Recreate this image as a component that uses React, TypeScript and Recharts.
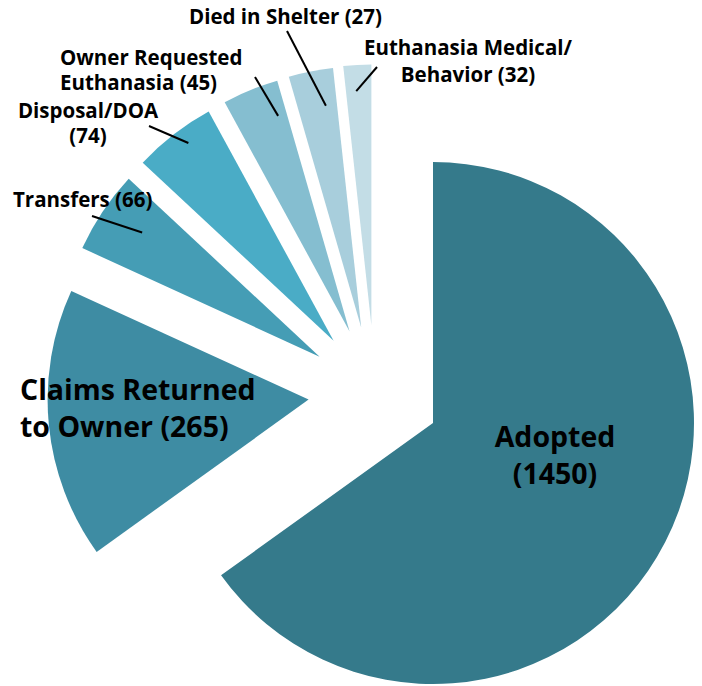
import React from 'react';
import { PieChart, Pie, Cell } from 'recharts';

// outcome categories, in clockwise order from 12 o'clock
const categories = [
  'Adopted',
  'Claims Returned to Owner',
  'Transfers',
  'Disposal/DOA',
  'Owner Requested Euthanasia',
  'Died in Shelter',
  'Euthanasia Medical/Behavior',
];
const counts = [1450, 265, 66, 74, 45, 27, 32];
// slice size as drawn in the original graphic (degrees) - the original is not drawn to scale
const sliceDegrees = [234.3, 60.3, 18.4, 18.4, 12.5, 9.9, 6.2];
// label text, split over lines like the original
const labelLines = [
  ['Adopted', `(${counts[0]})`],
  ['Claims Returned', `to Owner (${counts[1]})`],
  [`Transfers (${counts[2]})`],
  ['Disposal/DOA', `(${counts[3]})`],
  ['Owner Requested', `Euthanasia (${counts[4]})`],
  [`Died in Shelter (${counts[5]})`],
  ['Euthanasia Medical/', `Behavior (${counts[6]})`],
];

const data = categories.map((name, i) => ({ name, count: counts[i], deg: sliceDegrees[i] }));

// --- layout / styling ---
const W = 702;
const H = 686;
const CX = 433;
const CY = 423;
const R = 261;
const FONT = '"Open Sans", Lato, sans-serif';
const colors = ['#357A8B', '#3E8CA3', '#459DB5', '#4AACC6', '#85BED0', '#A8CEDC', '#C3DDE6'];
// how far each slice is pulled out of the pie
const explode = [
  [0, 0],
  [-124.4, -23.4],
  [-113.4, -66.3],
  [-99.4, -82.3],
  [-83.4, -91.6],
  [-71.8, -95.5],
  [-61.6, -97.5],
];
const labelPos: { x: number; y: number; anchor: 'start' | 'middle'; size: number; lh: number }[] = [
  { x: 555, y: 447, anchor: 'middle', size: 28.5, lh: 37 },
  { x: 20, y: 400, anchor: 'start', size: 28.5, lh: 37 },
  { x: 13, y: 207, anchor: 'start', size: 20.5, lh: 25 },
  { x: 88, y: 118, anchor: 'middle', size: 20.5, lh: 25 },
  { x: 60, y: 65, anchor: 'start', size: 20.5, lh: 25 },
  { x: 189, y: 24, anchor: 'start', size: 20.5, lh: 25 },
  { x: 468, y: 55, anchor: 'middle', size: 20.5, lh: 27 },
];
// leader lines: outer tip near the text; inner end at a fraction of the radius,
// turned a few degrees clockwise from the slice middle
const leader: ({ tip: [number, number]; depth: number; turn: number } | null)[] = [
  null,
  null,
  { tip: [92, 216], depth: 0.83, turn: 1.2 },
  { tip: [149, 126], depth: 0.94, turn: 1.5 },
  { tip: [255, 77], depth: 0.87, turn: 4 },
  { tip: [287, 31], depth: 0.86, turn: 2.1 },
  { tip: [377, 67], depth: 0.9, turn: -0.6 },
];

const RAD = Math.PI / 180;
const polar = (cx: number, cy: number, r: number, angle: number) => ({
  x: cx + r * Math.cos(-angle * RAD),
  y: cy + r * Math.sin(-angle * RAD),
});

const makeLabel = (k: number) => (props: any) => {
  if (props.index !== k) return null;
  const pos = labelPos[k];
  const ld = leader[k];
  let line = null;
  if (ld) {
    const p = polar(props.cx, props.cy, props.outerRadius * ld.depth, props.midAngle - ld.turn);
    line = <line x1={ld.tip[0]} y1={ld.tip[1]} x2={p.x} y2={p.y} stroke="#000" strokeWidth={2} />;
  }
  return (
    <g>
      {line}
      <text
        x={pos.x}
        y={pos.y}
        textAnchor={pos.anchor}
        fontFamily={FONT}
        fontWeight={700}
        fontSize={pos.size}
        fill="#000"
      >
        {labelLines[k].map((t, j) => (
          <tspan key={j} x={pos.x} y={pos.y + j * pos.lh}>
            {t}
          </tspan>
        ))}
      </text>
    </g>
  );
};

export default function App() {
  return (
    <div style={{ position: 'absolute', left: 0, top: 0, width: W, height: H, background: '#fff' }}>
      <PieChart width={W} height={H} margin={{ top: 0, right: 0, bottom: 0, left: 0 }}>
        {data.map((d, k) => (
          <Pie
            key={d.name}
            data={data}
            dataKey="deg"
            nameKey="name"
            cx={CX + explode[k][0]}
            cy={CY + explode[k][1]}
            outerRadius={R}
            startAngle={90}
            endAngle={-270}
            stroke="none"
            labelLine={false}
            label={makeLabel(k)}
            isAnimationActive={false}
          >
            {data.map((e, i) => (
              <Cell key={e.name} fill={i === k ? colors[i] : 'none'} />
            ))}
          </Pie>
        ))}
      </PieChart>
    </div>
  );
}
